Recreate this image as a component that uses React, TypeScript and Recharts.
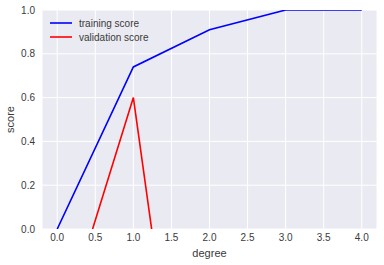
import { CartesianGrid, Line, LineChart, XAxis, YAxis } from "recharts";

const degrees = [0, 1, 2, 3, 4];
const trainingScore = [0, 0.74, 0.91, 1.0, 1.0];
const validationScore = [-0.52, 0.6, -1.9, -4.5, -12];
const xTicks = [0, 0.5, 1, 1.5, 2, 2.5, 3, 3.5, 4];
const yTicks = [0, 0.2, 0.4, 0.6, 0.8, 1.0];

const data = degrees.map((d, i) => ({
    degree: d,
    training: trainingScore[i],
    validation: validationScore[i],
}));

const FONT = "'Liberation Sans', Arial, sans-serif";
const TEXT = "#3a3a3a";

const legendItems = [
    { label: "training score", color: "#0000ff" },
    { label: "validation score", color: "#ff0000" },
];

// legend drawn over the plot, top-left, like matplotlib's loc='best'
function LegendBox() {
    return (
        <svg width={140} height={34} style={{ position: "absolute", top: 15, left: 48 }}>
            {legendItems.map((it, i) => (
                <g key={it.label}>
                    <line x1={2} x2={24} y1={8 + i * 14} y2={8 + i * 14} stroke={it.color} strokeWidth={1.6} />
                    <text x={31} y={8 + i * 14} dy="0.35em" fontSize={10} fill={TEXT} fontFamily={FONT}>
                        {it.label}
                    </text>
                </g>
            ))}
        </svg>
    );
}

export default function App() {
    return (
        <div style={{ width: 384, height: 265, position: "relative" }}>
            <style>{"body{margin:0}"}</style>
            <LineChart width={384} height={265} data={data} margin={{ top: 10, right: 7, left: 0, bottom: 0 }}>
                <CartesianGrid fill="#EAEAF2" stroke="#ffffff" strokeWidth={1} />
                <XAxis
                    dataKey="degree"
                    type="number"
                    domain={[-0.2, 4.2]}
                    ticks={xTicks}
                    allowDataOverflow
                    tickFormatter={(v: number) => v.toFixed(1)}
                    axisLine={false}
                    tickLine={false}
                    tickSize={3}
                    tickMargin={2}
                    height={36}
                    tick={{ fill: TEXT, fontSize: 10, fontFamily: FONT }}
                    label={{ value: "degree", position: "insideBottom", offset: 8, fill: TEXT, fontSize: 11, fontFamily: FONT }}
                />
                <YAxis
                    type="number"
                    domain={[0, 1]}
                    ticks={yTicks}
                    allowDataOverflow
                    tickFormatter={(v: number) => v.toFixed(1)}
                    axisLine={false}
                    tickLine={false}
                    tickSize={3}
                    tickMargin={4}
                    width={42}
                    tick={{ fill: TEXT, fontSize: 10, fontFamily: FONT }}
                    label={{
                        value: "score",
                        angle: -90,
                        position: "insideLeft",
                        offset: 10,
                        fill: TEXT,
                        fontSize: 11,
                        fontFamily: FONT,
                        style: { textAnchor: "middle" },
                    }}
                />
                <Line
                    dataKey="training"
                    stroke="#0000ff"
                    strokeWidth={1.6}
                    dot={false}
                    isAnimationActive={false}
                />
                <Line
                    dataKey="validation"
                    stroke="#ff0000"
                    strokeWidth={1.6}
                    dot={false}
                    isAnimationActive={false}
                />
            </LineChart>
            <LegendBox />
        </div>
    );
}
